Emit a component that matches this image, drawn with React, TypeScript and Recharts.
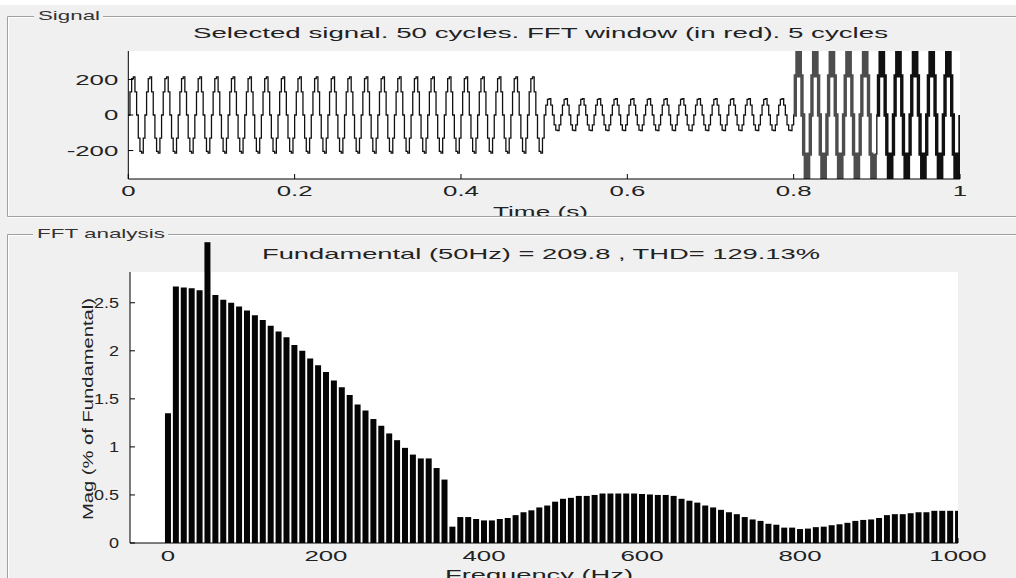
import React from 'react';
import { LineChart, Line, BarChart, Bar, XAxis, YAxis, CartesianGrid, ReferenceLine } from 'recharts';

// ---------- Signal panel ----------
const TIME_TICKS = [0, 0.2, 0.4, 0.6, 0.8, 1];
const SIGNAL_TICKS = [-200, 0, 200];
const SAMPLE_STEP = 0.002; // s between samples of the stepped trace
// one 50 Hz cycle (10 samples) of each part of the record
const CYCLE_NORMAL = [0, 130, 205, 215, 130, 0, -130, -205, -215, -130];
const CYCLE_SAG = [0, 55, 88, 92, 55, 0, -55, -85, -88, -55];
const CYCLE_SWELL = [0, 220, 760, 760, 220, 0, -220, -760, -760, -220];
// number of cycles in each part: 0-0.5 s, 0.5-0.8 s, FFT window 0.8-0.9 s, 0.9-1 s
const PART_CYCLES = [25, 15, 5, 5];
const PART_SHAPES = [CYCLE_NORMAL, CYCLE_SAG, CYCLE_SWELL, CYCLE_SWELL];
const PART_SERIES = ['main', 'main', 'window', 'tail'];

// ---------- FFT panel ----------
const FREQ_TICKS = [0, 200, 400, 600, 800, 1000];
const MAG_TICKS = [0, 0.5, 1, 1.5, 2, 2.5];
const BIN_HZ = 10;
const FUNDAMENTAL_HZ = 50;
// magnitude (% of fundamental) of each 10 Hz bin, 0..1000 Hz; the 50 Hz bin is shown clipped
const MAGNITUDES = [
  1.35, 2.67, 2.66, 2.65, 2.63, 3.13, 2.58, 2.53, 2.5, 2.46,
  2.42, 2.37, 2.32, 2.26, 2.2, 2.14, 2.06, 2.0, 1.92, 1.85,
  1.78, 1.69, 1.62, 1.54, 1.44, 1.38, 1.29, 1.22, 1.14, 1.07,
  0.99, 0.92, 0.88, 0.88, 0.78, 0.66, 0.17, 0.27, 0.27, 0.25,
  0.235, 0.235, 0.25, 0.26, 0.29, 0.32, 0.34, 0.37, 0.39, 0.43,
  0.46, 0.47, 0.49, 0.49, 0.5, 0.515, 0.515, 0.515, 0.515, 0.515,
  0.51, 0.505, 0.5, 0.5, 0.49, 0.46, 0.44, 0.42, 0.39, 0.37,
  0.345, 0.32, 0.3, 0.27, 0.245, 0.23, 0.2, 0.19, 0.16, 0.16,
  0.145, 0.15, 0.165, 0.17, 0.185, 0.195, 0.21, 0.23, 0.24, 0.245,
  0.26, 0.29, 0.3, 0.3, 0.31, 0.32, 0.32, 0.335, 0.335, 0.335,
  0.335,
];
const MAG_MAX = 2.82;

const TOP_TITLE = 'Selected signal. 50 cycles. FFT window (in red). 5 cycles';
const BOTTOM_TITLE = 'Fundamental (50Hz) = 209.8 , THD= 129.13%';

// build tables
type Row = { t: number; main: number | null; window: number | null; tail: number | null };
const signalData: Row[] = [];
{
  let idx = 0;
  PART_CYCLES.forEach((n, p) => {
    const key = PART_SERIES[p] as 'main' | 'window' | 'tail';
    for (let c = 0; c < n; c++) {
      PART_SHAPES[p].forEach((v) => {
        const row: Row = { t: +(idx * SAMPLE_STEP).toFixed(4), main: null, window: null, tail: null };
        row[key] = v;
        const prev = signalData[signalData.length - 1];
        if (prev) {
          const prevKey = (['main', 'window', 'tail'] as const).find((k) => prev[k] !== null);
          if (prevKey && prevKey !== key) row[prevKey] = v;
        }
        signalData.push(row);
        idx++;
      });
    }
  });
  signalData.push({ t: +(idx * SAMPLE_STEP).toFixed(4), main: null, window: null, tail: CYCLE_SWELL[0] });
}

const fftData = MAGNITUDES.map((m, i) => ({ hz: i * BIN_HZ, mag: m }));
const fundamentalMag = MAGNITUDES[FUNDAMENTAL_HZ / BIN_HZ];

const FONT = '"Liberation Sans", Arial, Helvetica, sans-serif';
const TEXT = '#222';
const FRAME = '#a0a0a0';

const fmt = (v: number) => String(v);

const XTick = (props: any) => {
  const { x, y, payload } = props;
  return (
    <text
      transform={`translate(${x},${y}) scale(1.72,1)`}
      textAnchor="middle"
      dy="0.71em"
      fontSize={15}
      fontFamily={FONT}
      fill={TEXT}
    >
      {fmt(payload.value)}
    </text>
  );
};

const YTick = (props: any) => {
  const { x, y, payload, sx } = props;
  return (
    <text
      transform={`translate(${x},${y}) scale(${sx ?? 1.72},1)`}
      textAnchor="end"
      dy="0.36em"
      fontSize={15}
      fontFamily={FONT}
      fill={TEXT}
    >
      {fmt(payload.value)}
    </text>
  );
};

const axisLine = { stroke: '#000', strokeWidth: 1 };
const tickLine = { stroke: '#000', strokeWidth: 1 };

export default function App() {
  return (
    <div
      style={{
        position: 'absolute',
        left: 0,
        top: 0,
        width: 1016,
        height: 578,
        background: '#f0f0f0',
        overflow: 'hidden',
        fontFamily: FONT,
      }}
    >
      <div style={{ position: 'absolute', left: 0, top: 0, width: 1016, height: 5, background: '#fff' }} />
      {/* Signal chart */}
      <div style={{ position: 'absolute', left: 0, top: 0 }}>
        <LineChart width={1016} height={216} data={signalData} margin={{ top: 51, right: 56, bottom: 7, left: 68.3 }}>
          <CartesianGrid fill="#fff" stroke="none" horizontal={false} vertical={false} />
          <XAxis
            dataKey="t"
            type="number"
            domain={[0, 1]}
            ticks={TIME_TICKS}
            interval={0}
            allowDataOverflow
            height={30}
            tickSize={-5}
            tickMargin={11}
            tick={<XTick />}
            axisLine={axisLine}
            tickLine={tickLine}
          />
          <XAxis
            xAxisId="top"
            orientation="top"
            dataKey="t"
            type="number"
            domain={[0, 1]}
            ticks={TIME_TICKS}
            interval={0}
            allowDataOverflow
            height={0}
            tickSize={-5}
            tick={false}
            axisLine={axisLine}
            tickLine={tickLine}
          />
          <YAxis
            type="number"
            domain={[-360, 360]}
            ticks={SIGNAL_TICKS}
            interval={0}
            allowDataOverflow
            width={60}
            tickSize={-5}
            tickMargin={15}
            tick={<YTick sx={1.72} />}
            axisLine={axisLine}
            tickLine={tickLine}
          />
          <YAxis
            yAxisId="right"
            orientation="right"
            type="number"
            domain={[-360, 360]}
            ticks={SIGNAL_TICKS}
            interval={0}
            allowDataOverflow
            width={0}
            tickSize={-5}
            tick={false}
            axisLine={axisLine}
            tickLine={tickLine}
          />
          <Line type="stepAfter" dataKey="main" stroke="#111" strokeWidth={1.3} dot={false} isAnimationActive={false} connectNulls={false} />
          <Line type="stepAfter" dataKey="window" stroke="#4d4d4d" strokeWidth={3.4} dot={false} isAnimationActive={false} connectNulls={false} />
          <Line type="stepAfter" dataKey="tail" stroke="#111" strokeWidth={3.4} dot={false} isAnimationActive={false} connectNulls={false} />
        </LineChart>
      </div>
      {/* FFT chart */}
      <div style={{ position: 'absolute', left: 0, top: 234 }}>
        <BarChart width={1016} height={344} data={fftData} margin={{ top: 38, right: 58, bottom: 5, left: 70 }} barSize={6}>
          <CartesianGrid fill="#fff" stroke="none" horizontal={false} vertical={false} />
          <XAxis
            dataKey="hz"
            type="number"
            domain={[-48, 1000]}
            ticks={FREQ_TICKS}
            interval={0}
            allowDataOverflow
            height={30}
            tickSize={-5}
            tickMargin={12}
            tick={<XTick />}
            axisLine={axisLine}
            tickLine={tickLine}
          />
          <XAxis
            xAxisId="top"
            orientation="top"
            dataKey="hz"
            type="number"
            domain={[-48, 1000]}
            ticks={FREQ_TICKS}
            interval={0}
            allowDataOverflow
            height={0}
            tickSize={-5}
            tick={false}
            axisLine={axisLine}
            tickLine={tickLine}
          />
          <YAxis
            type="number"
            domain={[0, MAG_MAX]}
            ticks={MAG_TICKS}
            interval={0}
            allowDataOverflow
            width={60}
            tickSize={-5}
            tickMargin={16}
            tick={<YTick sx={1.2} />}
            axisLine={axisLine}
            tickLine={tickLine}
          />
          <YAxis
            yAxisId="right"
            orientation="right"
            type="number"
            domain={[0, MAG_MAX]}
            ticks={MAG_TICKS}
            interval={0}
            allowDataOverflow
            width={0}
            tickSize={-5}
            tick={false}
            axisLine={axisLine}
            tickLine={tickLine}
          />
          <Bar dataKey="mag" fill="#050505" isAnimationActive={false} />
          <ReferenceLine
            segment={[
              { x: FUNDAMENTAL_HZ, y: MAG_MAX },
              { x: FUNDAMENTAL_HZ, y: fundamentalMag },
            ]}
            stroke="#050505"
            strokeWidth={6}
            ifOverflow="visible"
          />
        </BarChart>
      </div>
      {/* Frames and labels */}
      <svg width={1016} height={578} style={{ position: 'absolute', left: 0, top: 0, pointerEvents: 'none' }}>
        <text x={540.5} y={217} textAnchor="middle" textLength={95} lengthAdjust="spacingAndGlyphs" fontSize={15} fontFamily={FONT} fill={TEXT}>
          Time (s)
        </text>
        <rect x={470} y={216.5} width={140} height={12} fill="#f0f0f0" />
        <g stroke={FRAME} strokeWidth={1} fill="none">
          <path d="M7.5 216.5 V16.5 H34 M103 16.5 H1016 M7.5 216.5 H1016" />
          <path d="M7.5 578 V234.5 H33 M168 234.5 H1016" />
        </g>
        <g stroke="#fff" strokeWidth={1} fill="none">
          <path d="M8.5 215.5 V17.5 H34 M103 17.5 H1016 M8.5 217.5 H1016" />
          <path d="M8.5 578 V235.5 H33 M168 235.5 H1016" />
        </g>
        <text x={38} y={19.5} textLength={62} lengthAdjust="spacingAndGlyphs" fontSize={13.5} fontFamily={FONT} fill="#333">
          Signal
        </text>
        <text x={37} y={237.5} textLength={128} lengthAdjust="spacingAndGlyphs" fontSize={13.5} fontFamily={FONT} fill="#333">
          FFT analysis
        </text>
        <text x={540.5} y={37.5} textAnchor="middle" textLength={695} lengthAdjust="spacingAndGlyphs" fontSize={14} fontFamily={FONT} fill={TEXT}>
          {TOP_TITLE}
        </text>
        <text x={541} y={259} textAnchor="middle" textLength={558} lengthAdjust="spacingAndGlyphs" fontSize={15} fontFamily={FONT} fill={TEXT}>
          {BOTTOM_TITLE}
        </text>
        <text
          transform="translate(93,409) rotate(-90)"
          textAnchor="middle"
          textLength={222}
          lengthAdjust="spacingAndGlyphs"
          fontSize={15}
          fontFamily={FONT}
          fill={TEXT}
        >
          Mag (% of Fundamental)
        </text>
        <text x={539} y={580} textAnchor="middle" textLength={188} lengthAdjust="spacingAndGlyphs" fontSize={15} fontFamily={FONT} fill={TEXT}>
          Frequency (Hz)
        </text>
      </svg>
    </div>
  );
}
